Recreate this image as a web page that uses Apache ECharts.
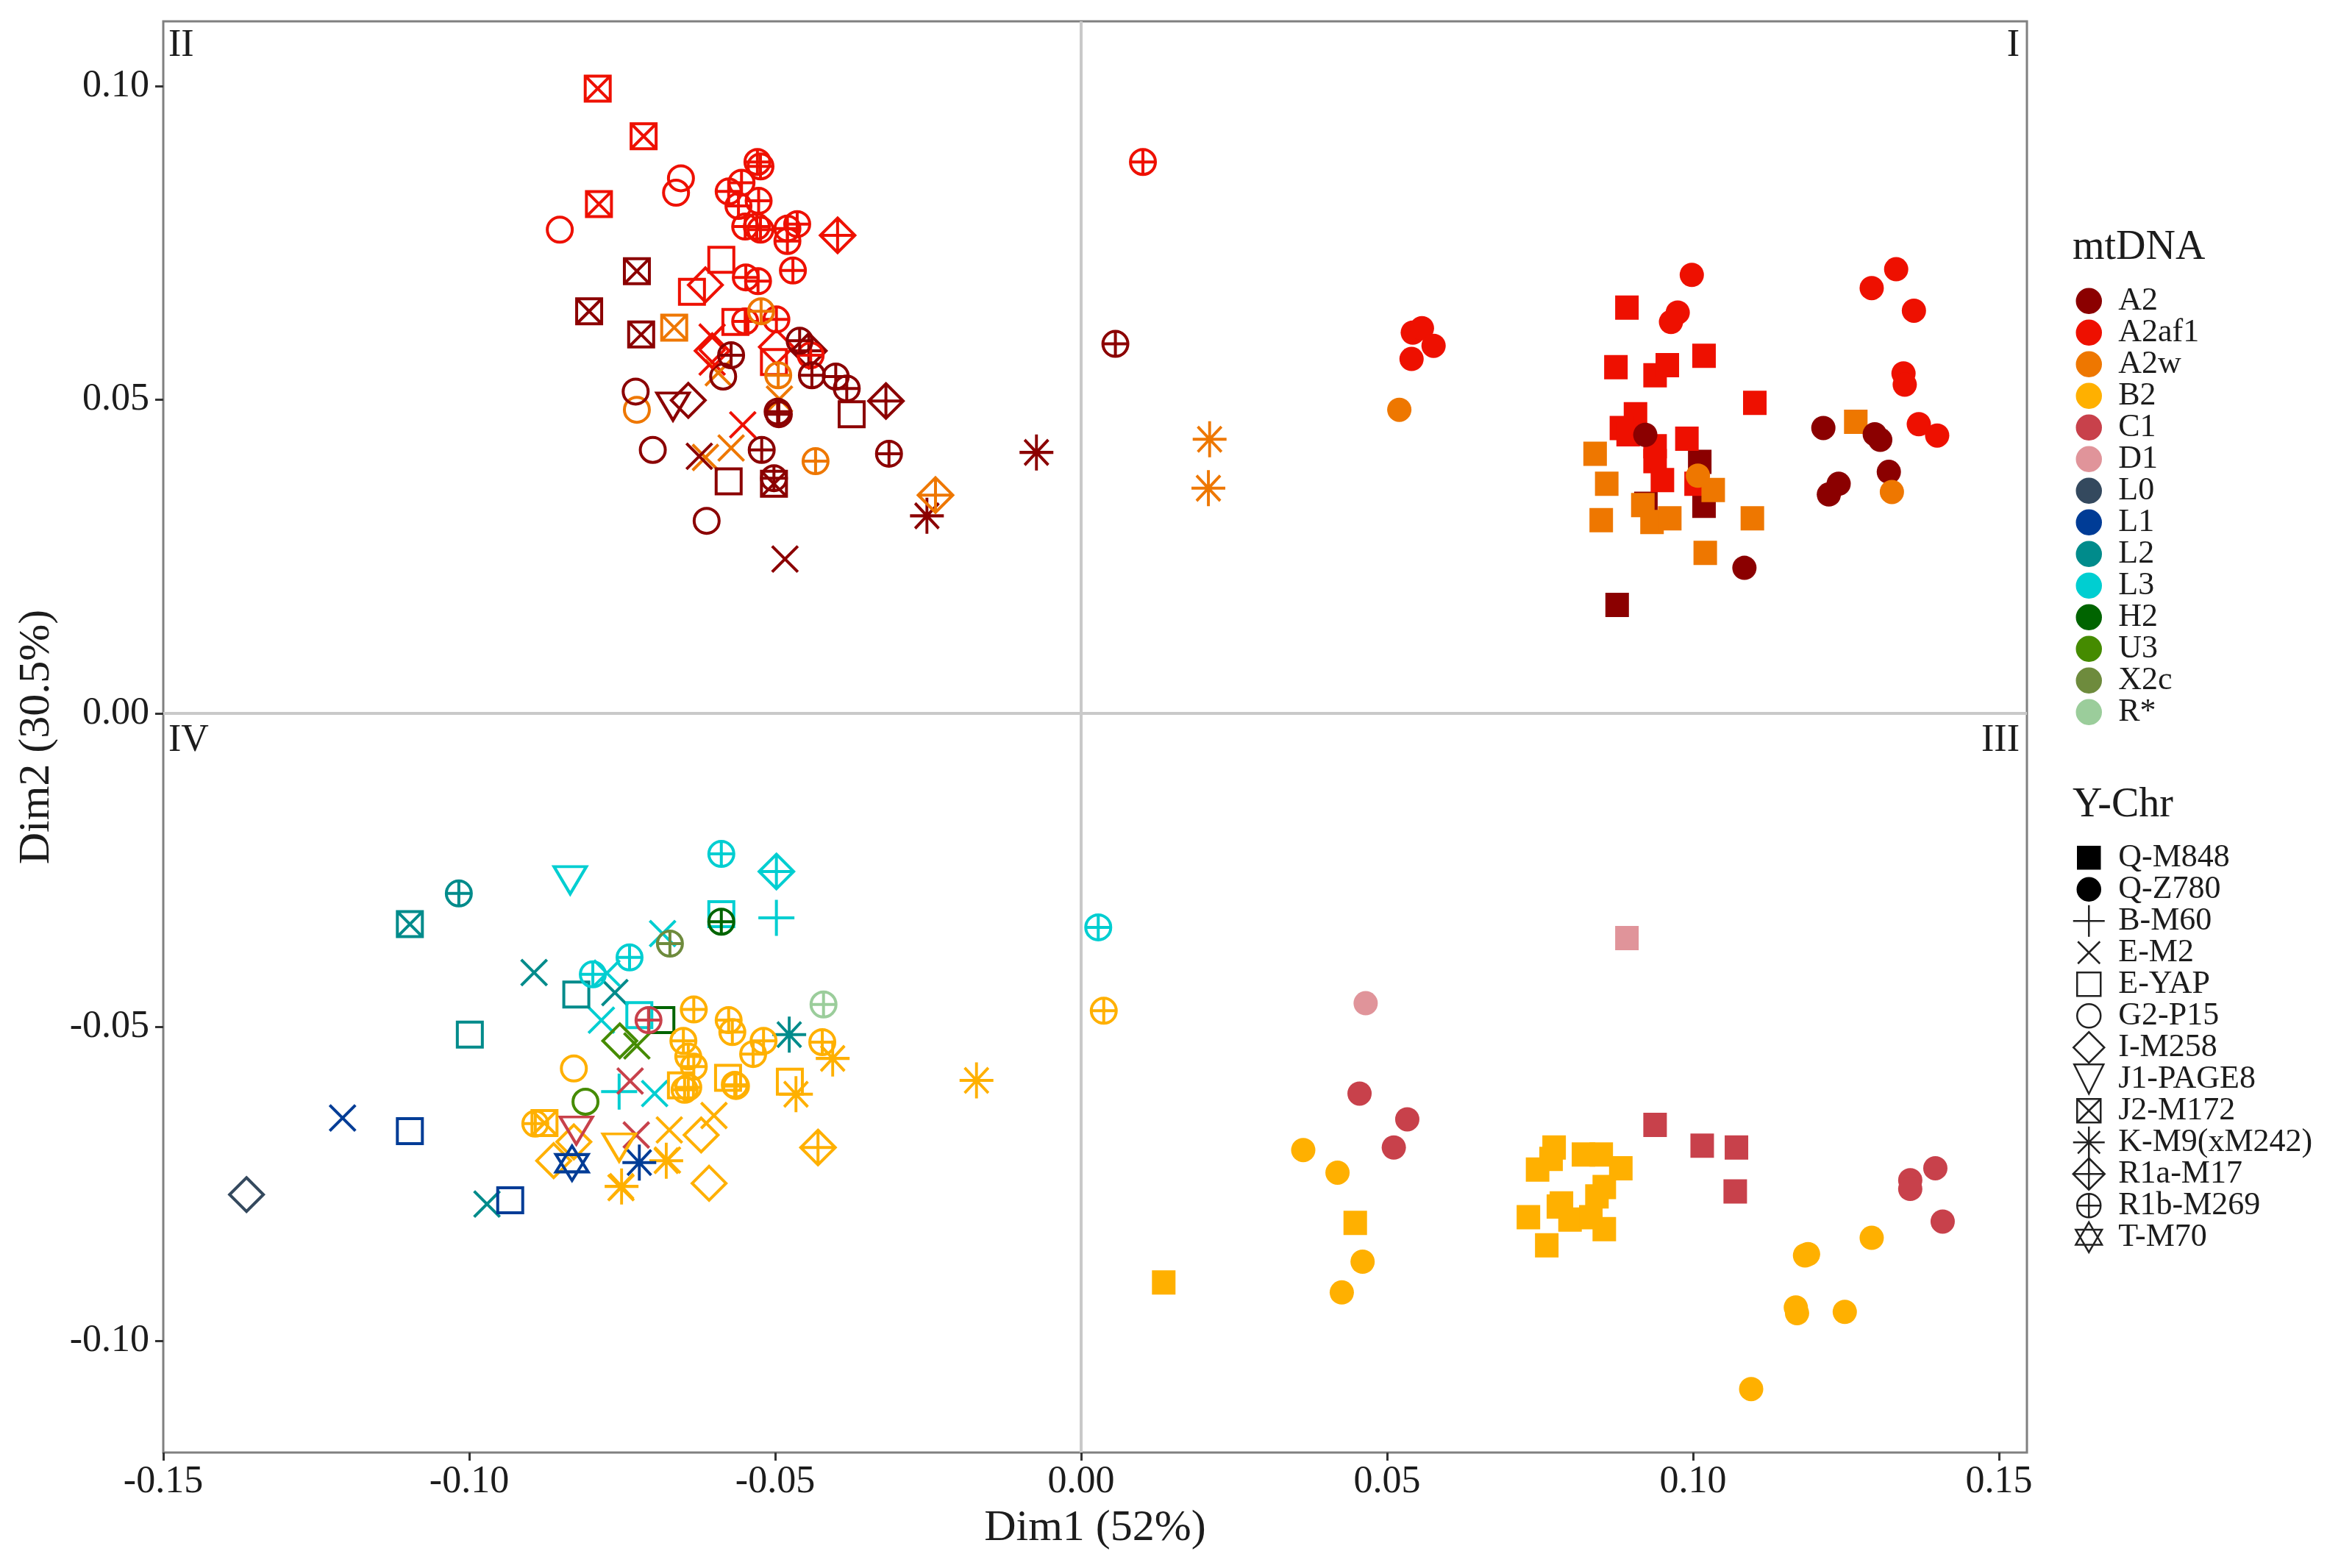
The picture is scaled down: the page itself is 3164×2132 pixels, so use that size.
<!DOCTYPE html>
<html><head><meta charset="utf-8">
<style>html,body{margin:0;padding:0;background:#fff}#c{width:3164px;height:2132px}</style>
<script src="https://cdn.jsdelivr.net/npm/echarts@6/dist/echarts.min.js"></script>
</head><body><div id="c"></div>
<script>
// ---------- categories ----------
const mtDNA = ['A2','A2af1','A2w','B2','C1','D1','L0','L1','L2','L3','H2','U3','X2c','R*'];
const mtColors = ['#8B0000','#EE1000','#EE7700','#FFB000','#C8414B','#E0949A','#34495E','#003C96','#008B8B','#00CED1','#006400','#458B00','#6E8B3D','#9BCD9B'];
const yChr = ['Q-M848','Q-Z780','B-M60','E-M2','E-YAP','G2-P15','I-M258','J1-PAGE8','J2-M172','K-M9(xM242)','R1a-M17','R1b-M269','T-M70'];
const xTicks = [-0.15,-0.10,-0.05,0,0.05,0.10,0.15];
const yTicks = [-0.10,-0.05,0,0.05,0.10];

// ---------- values: [Dim1, Dim2, mtDNA] ----------
const Q_M848 = [
[.1011,.0401,'A2'],[.1018,.0331,'A2'],[.0923,.0334,'A2'],[.0876,.0173,'A2'],
[.0892,.0647,'A2af1'],[.0874,.0552,'A2af1'],[.0938,.0539,'A2af1'],[.0958,.0555,'A2af1'],[.1018,.0570,'A2af1'],[.1101,.0495,'A2af1'],[.0906,.0477,'A2af1'],[.0883,.0455,'A2af1'],[.0894,.0445,'A2af1'],[.0938,.0426,'A2af1'],[.0938,.0402,'A2af1'],[.0950,.0372,'A2af1'],[.0990,.0438,'A2af1'],[.1005,.0366,'A2af1'],
[.0840,.0414,'A2w'],[.0859,.0366,'A2w'],[.0850,.0308,'A2w'],[.0918,.0332,'A2w'],[.0933,.0305,'A2w'],[.0962,.0311,'A2w'],[.1033,.0356,'A2w'],[.1097,.0311,'A2w'],[.1020,.0256,'A2w'],[.1266,.0465,'A2w'],
[.0135,-.0907,'B2'],[.0448,-.0812,'B2'],[.0746,-.0727,'B2'],[.0768,-.0710,'B2'],[.0773,-.0692,'B2'],[.0821,-.0703,'B2'],[.0850,-.0703,'B2'],[.0882,-.0725,'B2'],[.0855,-.0755,'B2'],[.0843,-.0770,'B2'],[.0785,-.0781,'B2'],[.0780,-.0786,'B2'],[.0799,-.0807,'B2'],[.0833,-.0803,'B2'],[.0855,-.0822,'B2'],[.0731,-.0803,'B2'],[.0761,-.0848,'B2'],
[.0938,-.0656,'C1'],[.1015,-.0689,'C1'],[.1071,-.0692,'C1'],[.1069,-.0762,'C1'],
[.0892,-.0358,'D1']];
const Q_Z780 = [
[.0998,.0699,'A2af1'],[.0975,.0639,'A2af1'],[.0964,.0624,'A2af1'],[.1332,.0708,'A2af1'],[.1292,.0678,'A2af1'],[.1361,.0642,'A2af1'],[.1344,.0542,'A2af1'],[.1346,.0524,'A2af1'],[.1369,.0461,'A2af1'],[.1399,.0443,'A2af1'],[.0542,.0607,'A2af1'],[.0557,.0614,'A2af1'],[.0576,.0586,'A2af1'],[.0540,.0565,'A2af1'],
[.0922,.0444,'A2'],[.1213,.0455,'A2'],[.1297,.0445,'A2'],[.1306,.0436,'A2'],[.1320,.0385,'A2'],[.1238,.0366,'A2'],[.1222,.0349,'A2'],[.1084,.0232,'A2'],
[.1008,.0379,'A2w'],[.1325,.0353,'A2w'],[.0520,.0484,'A2w'],
[.0363,-.0696,'B2'],[.0419,-.0732,'B2'],[.0460,-.0874,'B2'],[.0426,-.0923,'B2'],[.1183,-.0864,'B2'],[.1188,-.0862,'B2'],[.1292,-.0836,'B2'],[.1168,-.0947,'B2'],[.1170,-.0956,'B2'],[.1248,-.0954,'B2'],[.1095,-.1077,'B2'],
[.0455,-.0606,'C1'],[.0533,-.0647,'C1'],[.0511,-.0692,'C1'],[.1355,-.0744,'C1'],[.1355,-.0758,'C1'],[.1396,-.0725,'C1'],[.1408,-.0810,'C1'],
[.0465,-.0462,'D1']];
const B_M60 = [[-.0498,-.0326,'L3'],[-.0755,-.0603,'L3']];
const E_M2 = [
[-.0603,.0600,'A2af1'],[-.0603,.0560,'A2af1'],[-.0553,.0460,'A2af1'],
[-.0614,.0408,'A2w'],[-.0572,.0423,'A2w'],[-.0493,.0501,'A2w'],[-.0593,.0543,'A2w'],
[-.0624,.0410,'A2'],[-.0484,.0246,'A2'],
[-.1207,-.0645,'L1'],[-.0894,-.0413,'L2'],[-.0762,-.0445,'L2'],[-.0971,-.0782,'L2'],
[-.0684,-.0351,'L3'],[-.0784,-.0489,'L3'],[-.0697,-.0606,'L3'],[-.0775,-.0414,'L3'],
[-.0726,-.0530,'U3'],[-.0737,-.0586,'C1'],[-.0727,-.0672,'C1'],
[-.0673,-.0664,'B2'],[-.0600,-.0641,'B2'],[-.0752,-.0756,'B2'],[-.0676,-.0712,'B2']];
const E_YAP = [
[-.0375,.0477,'A2'],[-.0576,.0370,'A2'],
[-.0588,.0723,'A2af1'],[-.0636,.0672,'A2af1'],[-.0565,.0624,'A2af1'],[-.0502,.0560,'A2af1'],
[-.1097,-.0666,'L1'],[-.0933,-.0776,'L1'],[-.0825,-.0448,'L2'],[-.0999,-.0512,'L2'],
[-.0686,-.0489,'H2'],[-.0588,-.0320,'L3'],[-.0722,-.0481,'L3'],
[-.0654,-.0593,'B2'],[-.0577,-.0581,'B2'],[-.0476,-.0587,'B2']];
const G2_P15 = [
[-.0852,.0771,'A2af1'],[-.0654,.0853,'A2af1'],[-.0662,.0830,'A2af1'],
[-.0726,.0484,'A2w'],[-.0728,.0513,'A2'],[-.0700,.0420,'A2'],[-.0612,.0307,'A2'],[-.0585,.0537,'A2'],
[-.0829,-.0566,'B2'],[-.0810,-.0619,'U3']];
const I_M258 = [
[-.0614,.0683,'A2af1'],[-.0603,.0578,'A2af1'],[-.0498,.0584,'A2af1'],[-.0642,.0499,'A2'],
[-.1364,-.0767,'L0'],[-.0754,-.0522,'U3'],
[-.0621,-.0672,'B2'],[-.0608,-.0749,'B2'],[-.0862,-.0713,'B2'],[-.0829,-.0683,'B2']];
const J1_PAGE8 = [[-.0667,.0489,'A2'],[-.0835,-.0266,'L3'],[-.0755,-.0692,'B2'],[-.0825,-.0665,'C1']];
const J2_M172 = [
[-.0790,.0996,'A2af1'],[-.0715,.0920,'A2af1'],[-.0788,.0812,'A2af1'],[-.0665,.0615,'A2w'],
[-.0726,.0705,'A2'],[-.0804,.0641,'A2'],[-.0719,.0604,'A2'],[-.0502,.0366,'A2'],
[-.1097,-.0336,'L2'],[-.0877,-.0653,'B2']];
const K_M9 = [
[.0210,.0437,'A2w'],[.0208,.0359,'A2w'],[-.0252,.0315,'A2'],[-.0073,.0416,'A2'],
[-.0406,-.0550,'B2'],[-.0466,-.0607,'B2'],[-.0751,-.0754,'B2'],[-.0678,-.0713,'B2'],[-.0171,-.0585,'B2'],
[-.0477,-.0512,'L2'],[-.0722,-.0716,'L1']];
const R1a_M17 = [[-.0238,.0348,'A2w'],[-.0398,.0762,'A2af1'],[-.0445,.0578,'A2'],[-.0319,.0498,'A2'],[-.0498,-.0252,'L3'],[-.0430,-.0692,'B2']];
const R1b_M269 = [
[-.0529,.0879,'A2af1'],[-.0524,.0872,'A2af1'],[-.0555,.0846,'A2af1'],[-.0576,.0832,'A2af1'],[-.0527,.0817,'A2af1'],[-.0560,.0809,'A2af1'],[-.0549,.0776,'A2af1'],[-.0530,.0776,'A2af1'],[-.0524,.0771,'A2af1'],[-.0480,.0773,'A2af1'],[-.0464,.0780,'A2af1'],[-.0480,.0753,'A2af1'],[-.0471,.0706,'A2af1'],[-.0548,.0695,'A2af1'],[-.0528,.0689,'A2af1'],[-.0549,.0625,'A2af1'],[-.0498,.0628,'A2af1'],[.0101,.0879,'A2af1'],[-.0442,.0571,'A2af1'],
[-.0523,.0641,'A2w'],[-.0495,.0539,'A2w'],[-.0434,.0402,'A2w'],
[-.0572,.0571,'A2'],[-.0460,.0594,'A2'],[-.0440,.0539,'A2'],[-.0401,.0537,'A2'],[-.0383,.0518,'A2'],[-.0494,.0477,'A2'],[-.0496,.0481,'A2'],[-.0522,.0420,'A2'],[-.0314,.0414,'A2'],[-.0502,.0375,'A2'],[.0056,.0589,'A2'],
[-.1017,-.0287,'L2'],[-.0588,-.0332,'H2'],[-.0588,-.0224,'L3'],[-.0738,-.0389,'L3'],[-.0798,-.0416,'L3'],[.0028,-.0341,'L3'],
[-.0672,-.0367,'X2c'],[-.0421,-.0464,'R*'],
[-.0633,-.0472,'B2'],[-.0576,-.0489,'B2'],[-.0570,-.0508,'B2'],[-.0650,-.0522,'B2'],[-.0642,-.0547,'B2'],[-.0633,-.0563,'B2'],[-.0519,-.0522,'B2'],[-.0536,-.0543,'B2'],[-.0423,-.0524,'B2'],[-.0648,-.0600,'B2'],[-.0642,-.0596,'B2'],[-.0566,-.0592,'B2'],[-.0564,-.0594,'B2'],[.0037,-.0474,'B2'],[-.0892,-.0654,'B2'],
[-.0707,-.0489,'C1']];
const T_M70 = [[-.0832,-.0717,'L1']];
const yChrValues = [Q_M848,Q_Z780,B_M60,E_M2,E_YAP,G2_P15,I_M258,J1_PAGE8,J2_M172,K_M9,R1a_M17,R1b_M269,T_M70];

// ---------- marker shapes and styles ----------
const S='M-1 -1 L1 -1 L1 1 L-1 1 Z ', C='M-1 0 A1 1 0 1 1 1 0 A1 1 0 1 1 -1 0 Z ', P='M0 -1 L0 1 M-1 0 L1 0 ', X='M-1 -1 L1 1 M-1 1 L1 -1 ', D='M0 -1 L1 0 L0 1 L-1 0 Z ';
const shapes = [S, C, P, X, S, C, D, 'M-1 -1 L1 -1 L0 1 Z ', S+X, P+'M-0.7 -0.7 L0.7 0.7 M-0.7 0.7 L0.7 -0.7 ', D+P, C+P, 'M0 -1 L0.87 0.5 L-0.87 0.5 Z M0 1 L0.87 -0.5 L-0.87 -0.5 Z '];
const plotSize = [[32,33],33,49,35,34,34,[46,46],[44,37],34,[46,49],[47,47],34,[44,47]];
const legendSize = [30,31,43,30,32,32,42,40,32,43,43,32,41];
const filled = [true,true];
const BOX = 50, LEGEND_STROKE = 2.5;
function padded(path, size){ const c=(BOX/size).toFixed(3); return 'path://M-'+c+' -'+c+' L-'+c+' -'+c+' M'+c+' '+c+' L'+c+' '+c+' '+path; }
const TXT='#1c1c1c', FONT='"Liberation Serif", serif';

const series = [];
mtDNA.forEach((n,i)=>series.push({name:n,type:'scatter',data:[],symbol:'circle',itemStyle:{color:mtColors[i],opacity:1}}));
yChr.forEach((n,i)=>{
  const solid=!!filled[i];
  series.push({
    name:n,type:'scatter',symbol:'path://'+shapes[i],symbolSize:plotSize[i],
    itemStyle:solid?{color:'#000',opacity:1}:{color:'transparent',borderColor:'#000',borderWidth:4,opacity:1},
    emphasis:{disabled:true},
    data:yChrValues[i].map(d=>{
      const c=mtColors[mtDNA.indexOf(d[2])];
      return {value:[d[0],d[1]],itemStyle:solid?{color:c}:{borderColor:c}};
    }),
    markLine:i===0?{silent:true,symbol:'none',label:{show:false},animation:false,z:1,
      lineStyle:{color:'#c9c9c9',width:4,type:'solid'},data:[{xAxis:0},{yAxis:0}]}:undefined
  });
});
const legendBase={orient:'vertical',left:2809,itemWidth:BOX,itemHeight:BOX,itemGap:43-BOX-LEGEND_STROKE,selectedMode:false,
  textStyle:{fontFamily:FONT,fontSize:44,color:TXT,padding:[0,0,0,10]}};
const CIRC='M-1 0 A1 1 0 1 1 1 0 A1 1 0 1 1 -1 0 Z';
const label=(text,x,y,size,align)=>({type:'text',x,y,style:{text,font:size+'px '+FONT,fill:TXT,align:align||'left',verticalAlign:'middle'}});

const chart=echarts.init(document.getElementById('c'),null,{renderer:'canvas',width:3164,height:2132});
chart.setOption({
  animation:false,backgroundColor:'#fff',
  grid:{left:222,top:29,width:2534,height:1946,show:true,borderColor:'#808080',borderWidth:3,backgroundColor:'#fff',outerBoundsMode:'none',containLabel:false},
  xAxis:{type:'value',min:-0.15,max:0.15457,name:'Dim1 (52%)',nameLocation:'middle',nameGap:73,
    nameTextStyle:{fontFamily:FONT,fontSize:60,color:TXT},
    axisLine:{show:false,onZero:false},splitLine:{show:false},
    axisTick:{show:true,length:11,customValues:xTicks,lineStyle:{color:'#333',width:3}},
    axisLabel:{customValues:xTicks,margin:14,fontFamily:FONT,fontSize:52,color:TXT,formatter:v=>v.toFixed(2)}},
  yAxis:{type:'value',min:-0.11782,max:0.11032,name:'Dim2 (30.5%)',nameLocation:'middle',nameGap:142,
    nameTextStyle:{fontFamily:FONT,fontSize:60,color:TXT},
    axisLine:{show:false,onZero:false},splitLine:{show:false},
    axisTick:{show:true,length:11,customValues:yTicks,lineStyle:{color:'#333',width:3}},
    axisLabel:{customValues:yTicks,margin:19,fontFamily:FONT,fontSize:52,color:TXT,formatter:v=>v.toFixed(2)}},
  legend:[
    Object.assign({},legendBase,{top:378,data:mtDNA.map((n,i)=>({name:n,icon:padded(CIRC,33),itemStyle:{color:mtColors[i],borderColor:mtColors[i],borderWidth:LEGEND_STROKE,opacity:1}}))}),
    Object.assign({},legendBase,{top:1135,data:yChr.map((n,i)=>({name:n,icon:padded(shapes[i],legendSize[i]),
      itemStyle:filled[i]?{color:'#000',borderColor:'#000',borderWidth:LEGEND_STROKE,opacity:1}:{color:'transparent',borderColor:'#222',borderWidth:LEGEND_STROKE,opacity:1}}))})
  ],
  graphic:[
    label('mtDNA',2818,337,56),label('Y-Chr',2818,1095,56),
    label('II',229,62,52),label('I',2746,62,52,'right'),label('IV',229,1007,52),label('III',2746,1007,52,'right')
  ],
  series
});
</script></body></html>
